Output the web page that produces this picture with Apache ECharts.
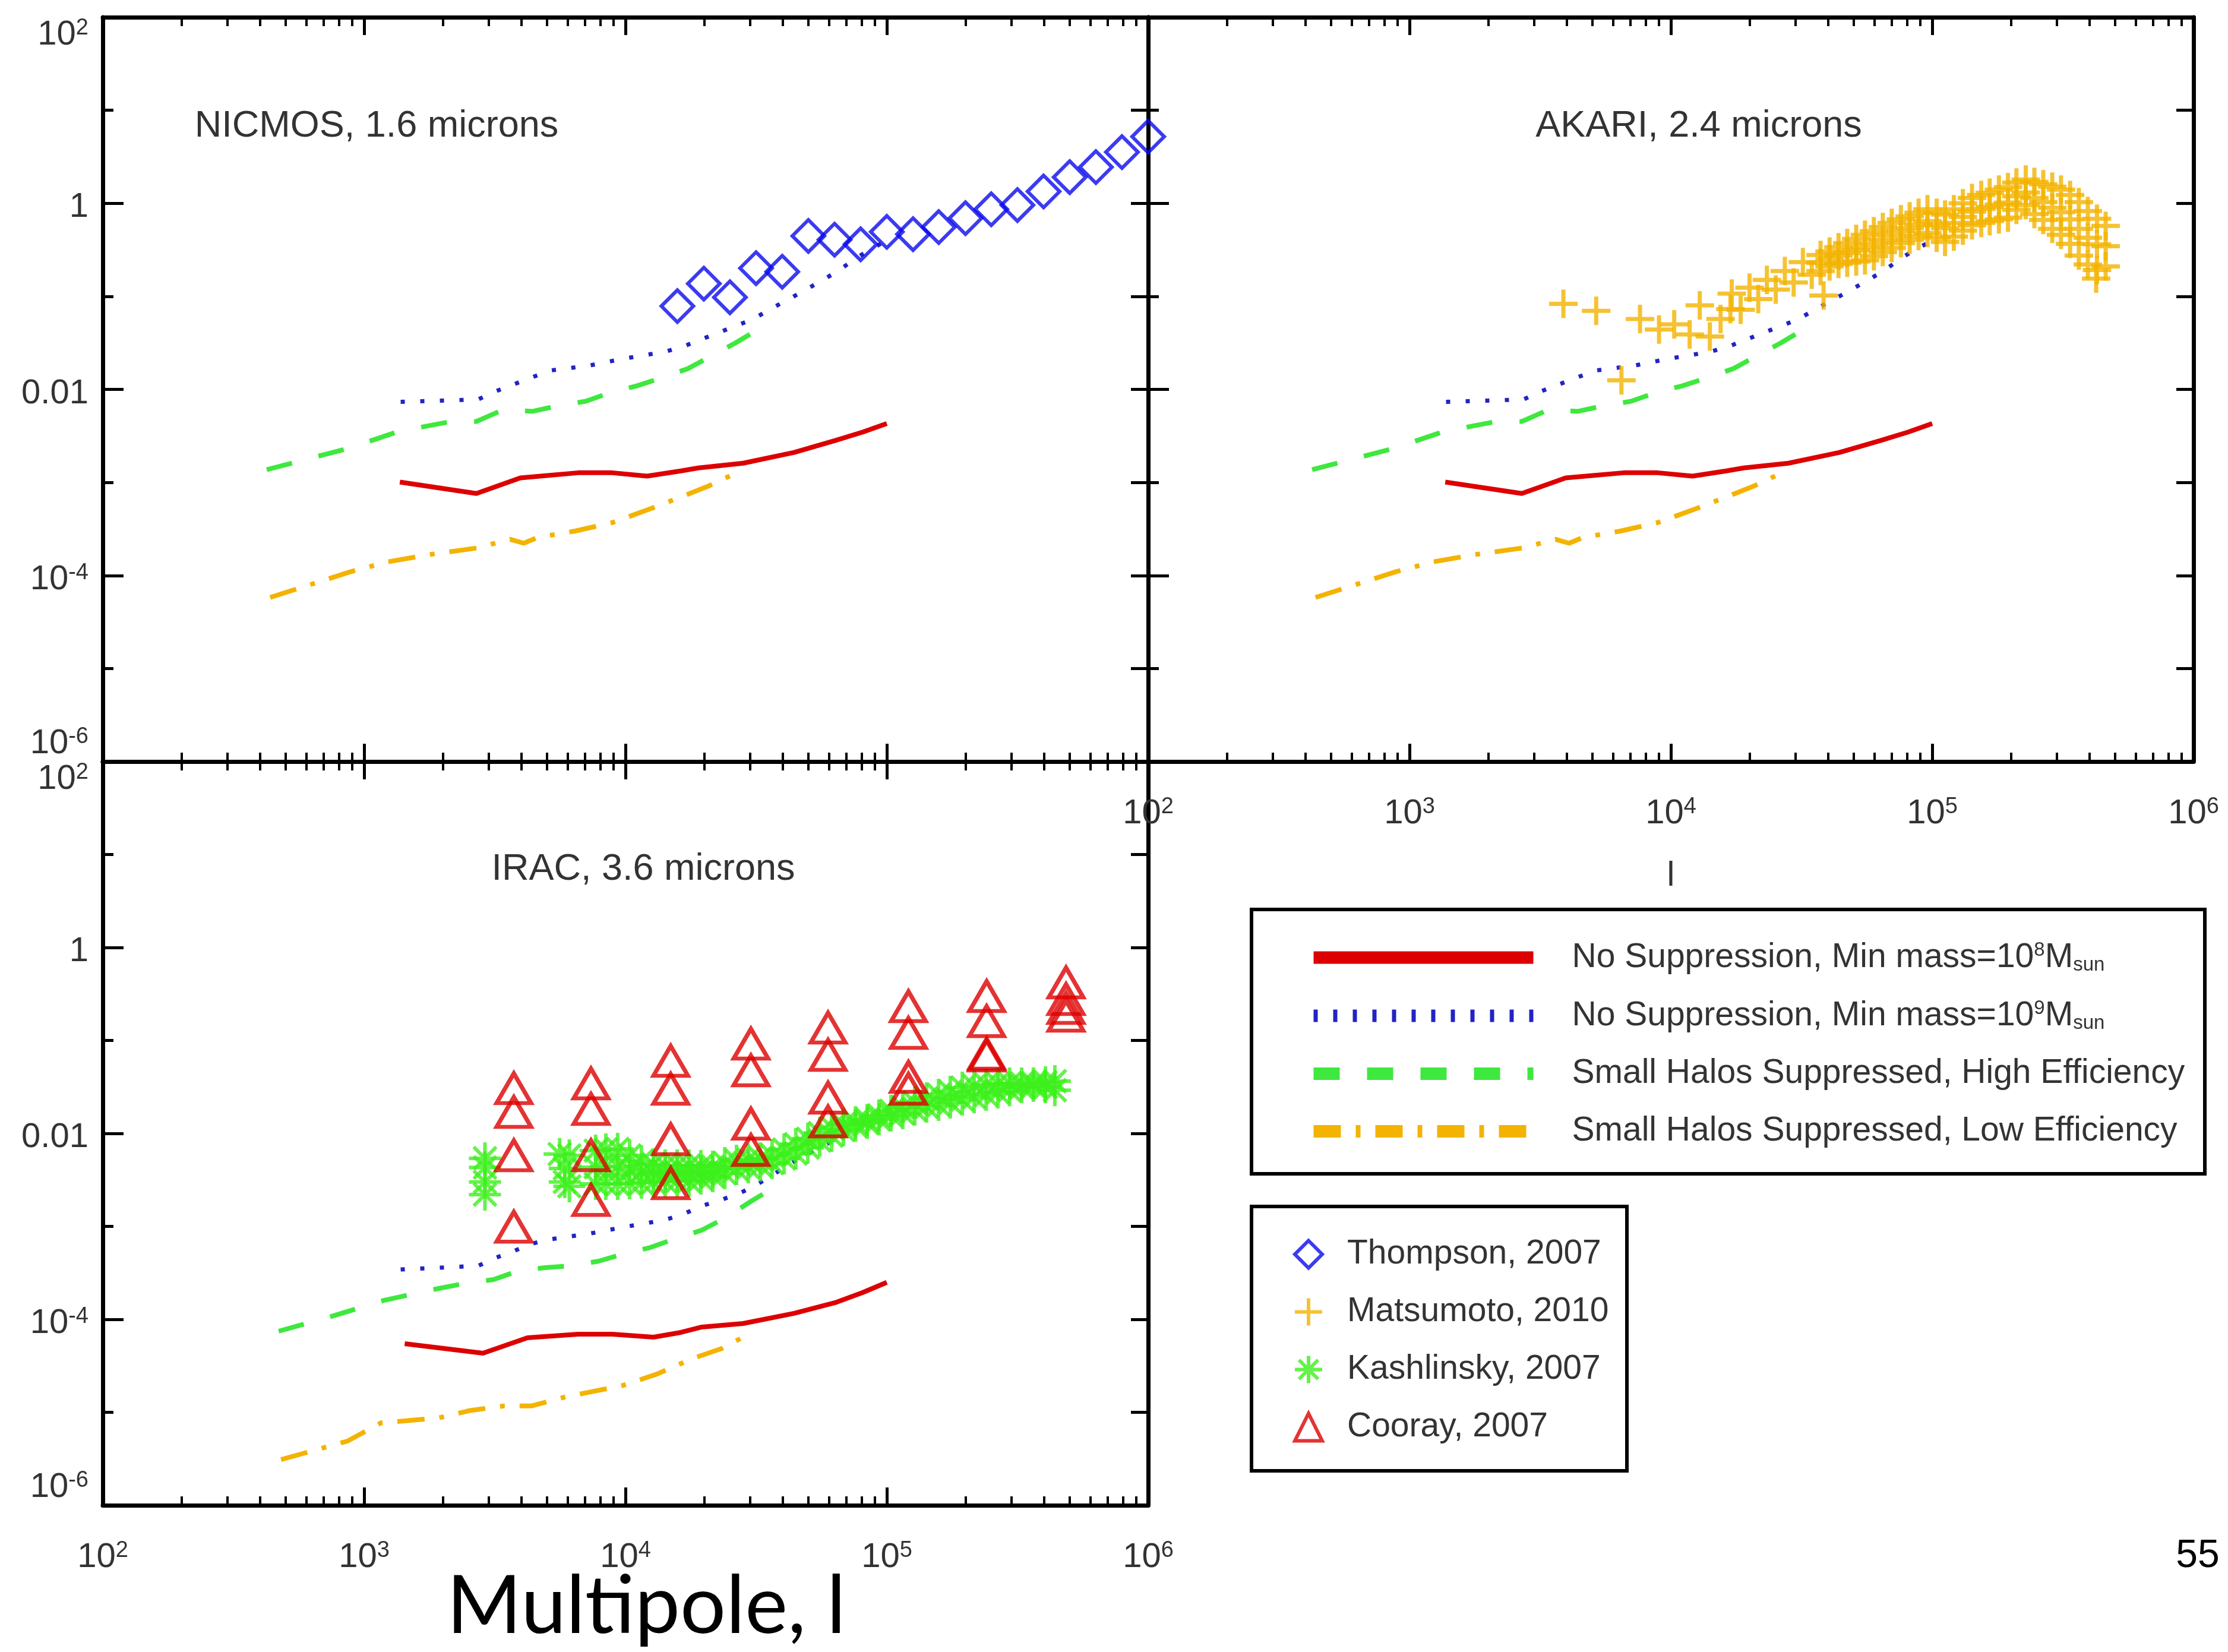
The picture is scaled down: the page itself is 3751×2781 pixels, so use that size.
<!DOCTYPE html>
<html>
<head>
<meta charset="utf-8">
<script src="https://cdn.jsdelivr.net/npm/echarts@6/dist/echarts.min.js"></script>
<style>
  html, body { margin: 0; padding: 0; background: #fff; }
  #chart { width: 3751px; height: 2781px; }
</style>
</head>
<body>
<div id="chart"></div>
<script>
// ---- data (multipole l, power) ----
const xTickExp = [2, 3, 4, 5, 6]
const yTickExp = [2, 0, -2, -4, -6]

// model curves, NICMOS / AKARI panels
const topNoSup8 = [[1370, 1.01e-3], [2690, 7.6e-4], [3960, 1.12e-3], [6600, 1.27e-3], [8900, 1.27e-3], [12100, 1.17e-3], [16300, 1.33e-3], [19000, 1.43e-3], [28200, 1.61e-3], [44200, 2.10e-3], [63400, 2.82e-3], [80700, 3.47e-3], [100000, 4.3e-3]]
const topNoSup9 = [[1380, 7.35e-3], [2730, 7.8e-3], [3210, 9.6e-3], [4360, 1.34e-2], [5200, 1.6e-2], [7230, 1.8e-2], [9950, 2.15e-2], [14100, 2.53e-2], [16800, 2.92e-2], [22600, 4.05e-2], [30800, 5.7e-2], [35900, 7.3e-2], [48300, 0.115], [64400, 0.184], [78200, 0.27], [100000, 0.40]]
const topHighEff = [[424, 1.37e-3], [859, 2.3e-3], [1350, 3.52e-3], [2150, 4.52e-3], [2690, 4.52e-3], [3420, 6.07e-3], [4420, 5.81e-3], [5450, 6.62e-3], [7040, 7.45e-3], [8820, 9.29e-3], [11050, 1.09e-2], [13830, 1.34e-2], [17330, 1.67e-2], [21700, 2.35e-2], [26300, 3.15e-2], [30600, 4.05e-2]]
const topLowEff = [[437, 5.8e-5], [881, 1.09e-4], [1230, 1.4e-4], [1760, 1.67e-4], [2690, 1.97e-4], [3620, 2.45e-4], [4080, 2.22e-4], [4610, 2.56e-4], [6410, 3.0e-4], [8910, 3.7e-4], [12100, 5.05e-4], [16300, 6.97e-4], [20700, 9.1e-4], [25200, 1.18e-3]]

// model curves, IRAC panel
const iracNoSup8 = [[1430, 5.47e-5], [2850, 4.32e-5], [4220, 6.34e-5], [6600, 6.92e-5], [8900, 6.92e-5], [12800, 6.43e-5], [16300, 7.24e-5], [19600, 8.26e-5], [28200, 9.02e-5], [44200, 1.16e-4], [63400, 1.51e-4], [80700, 1.94e-4], [100000, 2.5e-4]]
const iracNoSup9 = [[1380, 3.44e-4], [2730, 3.76e-4], [3210, 4.62e-4], [3740, 5.43e-4], [4360, 6.49e-4], [5200, 7.29e-4], [7230, 8.32e-4], [10050, 9.93e-4], [14100, 1.17e-3], [16600, 1.35e-3], [19600, 1.66e-3], [22900, 1.9e-3], [26900, 2.23e-3], [30800, 2.66e-3], [48300, 5.8e-3], [76000, 1.1e-2], [100000, 2.0e-2]]
const iracHighEff = [[471, 7.45e-5], [762, 1.09e-4], [1190, 1.6e-4], [1930, 2.15e-4], [2460, 2.45e-4], [3130, 2.68e-4], [3860, 3.3e-4], [4910, 3.6e-4], [6150, 3.76e-4], [7910, 4.23e-4], [9800, 5.05e-4], [12450, 5.93e-4], [15350, 7.29e-4], [19540, 9.08e-4], [24200, 1.24e-3], [29850, 1.82e-3], [33650, 2.23e-3]]
const iracLowEff = [[481, 3.1e-6], [863, 4.9e-6], [1160, 7.7e-6], [1930, 8.7e-6], [2520, 1.04e-5], [3420, 1.17e-5], [4360, 1.17e-5], [5870, 1.46e-5], [7230, 1.64e-5], [9800, 1.95e-5], [13200, 2.58e-5], [18000, 3.78e-5], [23400, 4.86e-5], [30800, 7.35e-5]]

// measurements
const thompson2007 = [[15800, 0.0785], [19950, 0.137], [25100, 0.0977], [31600, 0.201], [39800, 0.184], [50100, 0.446], [63100, 0.407], [79400, 0.362], [100000, 0.493], [126000, 0.466], [158000, 0.555], [200000, 0.692], [251000, 0.863], [316000, 0.957], [398000, 1.34], [501000, 1.91], [631000, 2.45], [794000, 3.55], [1000000, 5.2]]

const matsumoto2010 = [
  [3880, 0.083], [5180, 0.070], [6470, 0.0125], [7620, 0.057], [9010, 0.044], [10300, 0.050], [11800, 0.039], [12900, 0.080], [14100, 0.037], [15500, 0.057], [16900, 0.073],
  [17100, 0.107], [20000, 0.124], [23300, 0.150], [27300, 0.187], [32000, 0.233],
  [18500, 0.0718], [21600, 0.0935], [25200, 0.118], [29500, 0.141], [34600, 0.171],
  // upper edge of the dense part
  [37400, 0.278], [40500, 0.303], [43800, 0.337], [47300, 0.373], [51200, 0.414], [55300, 0.459], [59800, 0.501], [64700, 0.555], [70000, 0.615], [75900, 0.672], [82000, 0.723], [88700, 0.791], [95900, 0.863], [104000, 0.791], [112000, 0.757], [121000, 0.863], [131000, 1.00], [142000, 1.14], [154000, 1.23], [166000, 1.30], [180000, 1.40], [195000, 1.49], [210000, 1.67], [228000, 1.80], [246000, 1.70], [266000, 1.60], [288000, 1.51], [311000, 1.40], [337000, 1.23], [364000, 1.03], [394000, 0.826], [427000, 0.682], [461000, 0.571],
  // middle
  [37400, 0.228], [40500, 0.252], [43800, 0.274], [47300, 0.293], [51200, 0.313], [55300, 0.335], [59800, 0.368], [64700, 0.407], [70000, 0.452], [75900, 0.501], [82000, 0.542], [88700, 0.594], [95900, 0.644], [104000, 0.580], [112000, 0.540], [121000, 0.616], [131000, 0.713], [142000, 0.813], [154000, 0.870], [166000, 0.914], [180000, 0.970], [195000, 1.02], [210000, 1.19], [228000, 1.31], [246000, 1.14], [266000, 1.03], [288000, 0.895], [311000, 0.802], [337000, 0.672], [364000, 0.531], [394000, 0.426], [427000, 0.362], [461000, 0.346],
  // lower edge
  [37400, 0.187], [40500, 0.210], [43800, 0.223], [47300, 0.230], [51200, 0.237], [55300, 0.244], [59800, 0.270], [64700, 0.299], [70000, 0.332], [75900, 0.373], [82000, 0.407], [88700, 0.446], [95900, 0.480], [104000, 0.426], [112000, 0.385], [121000, 0.439], [131000, 0.508], [142000, 0.580], [154000, 0.615], [166000, 0.643], [180000, 0.672], [195000, 0.703], [210000, 0.851], [228000, 0.957], [246000, 0.767], [266000, 0.662], [288000, 0.531], [311000, 0.459], [337000, 0.367], [364000, 0.274], [394000, 0.220], [427000, 0.192], [461000, 0.210],
  [38400, 0.102], [424000, 0.155]
]

const kashlinsky2007 = [
  [2900, 5.4e-3], [2900, 4.3e-3], [2900, 3.0e-3], [2900, 2.2e-3],
  [5600, 6.0e-3], [6100, 5.8e-3], [5860, 4.2e-3], [5860, 3.0e-3], [6100, 2.7e-3],
  // upper edge
  [7690, 6.53e-3], [8410, 6.72e-3], [9340, 6.82e-3], [10370, 5.81e-3], [11510, 5.01e-3], [12790, 4.66e-3], [14190, 4.52e-3], [15770, 4.52e-3], [17500, 4.52e-3], [19440, 4.46e-3], [21580, 4.39e-3], [23990, 4.80e-3], [26610, 5.08e-3], [29510, 5.23e-3], [32810, 5.39e-3], [36390, 5.81e-3], [40460, 6.72e-3], [44870, 7.67e-3], [49890, 8.75e-3], [55340, 1.01e-2], [61520, 1.16e-2], [68230, 1.25e-2], [75860, 1.32e-2], [84140, 1.40e-2], [93330, 1.56e-2], [103800, 1.75e-2], [115100, 1.91e-2], [127900, 2.15e-2], [141900, 2.38e-2], [157800, 2.60e-2], [175000, 2.80e-2], [194500, 3.10e-2], [215800, 3.24e-2], [239900, 3.34e-2], [266100, 3.44e-2], [295100, 3.44e-2], [328100, 3.44e-2], [363900, 3.44e-2], [404600, 3.55e-2], [439500, 3.65e-2],
  // middle of the thick part
  [7690, 4.32e-3], [8410, 4.38e-3], [9340, 4.42e-3], [10370, 4.11e-3], [11510, 3.84e-3], [12790, 3.73e-3], [14190, 3.71e-3], [15770, 3.73e-3], [17500, 3.73e-3], [19440, 3.82e-3], [21580, 3.90e-3],
  // lower edge
  [7690, 2.86e-3], [8410, 2.86e-3], [9340, 2.86e-3], [10370, 2.91e-3], [11510, 2.95e-3], [12790, 2.99e-3], [14190, 3.04e-3], [15770, 3.08e-3], [17500, 3.08e-3], [19440, 3.27e-3], [21580, 3.47e-3], [23990, 3.73e-3], [26610, 4.14e-3], [29510, 4.32e-3], [32810, 4.52e-3], [36390, 4.80e-3], [40460, 5.39e-3], [44870, 6.07e-3], [49890, 7.03e-3], [55340, 8.38e-3], [61520, 9.42e-3], [68230, 1.09e-2], [75860, 1.21e-2], [84140, 1.30e-2], [93330, 1.42e-2], [103800, 1.56e-2], [115100, 1.65e-2], [127900, 1.80e-2], [141900, 1.94e-2], [157800, 2.03e-2], [175000, 2.15e-2], [194500, 2.31e-2], [215800, 2.45e-2], [239900, 2.60e-2], [266100, 2.76e-2], [295100, 2.92e-2], [328100, 3.15e-2], [363900, 3.24e-2], [404600, 3.15e-2], [439500, 2.92e-2]
]

const cooray2007 = [
  [3740, 0.0306], [3740, 0.0170], [3740, 0.00581], [3740, 0.00099],
  [7380, 0.0344], [7380, 0.0183], [7380, 0.00581], [7380, 0.00192],
  [14900, 0.0603], [14900, 0.0301], [14900, 0.00863], [14900, 0.00291],
  [30200, 0.0923], [30200, 0.0475], [30200, 0.0127], [30200, 0.00662],
  [59600, 0.137], [59600, 0.0697], [59600, 0.0242], [59600, 0.0134],
  [121000, 0.233], [121000, 0.120], [121000, 0.0405], [121000, 0.0301],
  [241000, 0.299], [241000, 0.161], [241000, 0.0718], [241000, 0.0687],
  [485000, 0.420], [485000, 0.278], [485000, 0.223], [485000, 0.184]
]

const modelNames = ['nosup8', 'nosup9', 'higheff', 'loweff']
const obsNames = ['Thompson, 2007', 'Matsumoto, 2010', 'Kashlinsky, 2007', 'Cooray, 2007']

// ---- styles ----
const FONT = '"Liberation Sans", Arial, Helvetica, sans-serif'
const INK = '#333'
const RED = '#dd0000'
const ORANGE = '#f3b300'
const GREEN = '#3ee83e'

const lineStyles = {
  nosup8: { color: RED, width: 8, type: 'solid' },
  nosup9: { color: '#2323c3', width: 7, type: [7, 26] },
  higheff: { color: GREEN, width: 8, type: [44, 46] },
  loweff: { color: ORANGE, width: 8, type: [46, 25, 8, 25] }
}

const legendText = {
  nosup8: '{t|No Suppression, Min mass=10}{sup|8}{t|M}{sub|sun}',
  nosup9: '{t|No Suppression, Min mass=10}{sup|9}{t|M}{sub|sun}',
  higheff: '{t|Small Halos Suppressed, High Efficiency}',
  loweff: '{t|Small Halos Suppressed, Low Efficiency}'
}

const PLUS = 'path://M5,0V10M0,5H10'
const STAR = 'path://M5,0V10M0,5H10M1.5,1.5L8.5,8.5M8.5,1.5L1.5,8.5'

// panel rectangles in px
const panels = [
  { left: 173, top: 29, width: 1760, height: 1253, xLabels: false, yLabels: true, xName: '' },
  { left: 1933, top: 29, width: 1760, height: 1253, xLabels: true, yLabels: false, xName: 'l' },
  { left: 173, top: 1282, width: 1760, height: 1252, xLabels: true, yLabels: true, xName: '' }
]

const tickRich = {
  b: { fontFamily: FONT, color: INK, fontSize: 58, lineHeight: 60 },
  s: { fontFamily: FONT, color: INK, fontSize: 38, lineHeight: 6, verticalAlign: 'top' },
  gh: { fontSize: 10, lineHeight: 60 },
  gm: { fontSize: 10, lineHeight: 14 }
}

const xLabelFmt = (v) => {
  const e = Math.round(Math.log10(v))
  if (xTickExp.indexOf(e) < 0) return ''
  return '{b|10}{s|' + e + '}'
}

// top label sits below its tick, bottom label above, like the original
const yLabelFmt = (v) => {
  const e = Math.round(Math.log10(v))
  if (yTickExp.indexOf(e) < 0) return ''
  let txt = '{b|10}{s|' + e + '}'
  if (e === 0) txt = '{b|1}'
  if (e === -2) txt = '{b|0.01}'
  if (e === 2) return '{gh| }\n' + txt
  if (e === -6) return txt + '\n{gh| }'
  return '{gm| }\n' + txt
}

const blackLine = { color: '#000', width: 7 }
const tickLine = { color: '#000', width: 5 }

const grid = []
const xAxis = []
const yAxis = []
const series = []

panels.forEach((p, g) => {
  grid.push({ left: p.left, top: p.top, width: p.width, height: p.height, show: false, containLabel: false, outerBoundsMode: 'none' })

  const xBase = {
    type: 'log', logBase: 10, min: 1e2, max: 1e6, interval: 1, gridIndex: g,
    axisLine: { show: true, onZero: false, lineStyle: blackLine },
    axisTick: { show: true, inside: true, length: 30, lineStyle: tickLine },
    minorTick: { show: true, splitNumber: 9, length: 15, lineStyle: { color: '#000', width: 4 } },
    splitLine: { show: false }, minorSplitLine: { show: false }
  }
  xAxis.push(Object.assign({}, xBase, {
    position: 'bottom',
    name: p.xName, nameLocation: 'middle', nameGap: 164,
    nameTextStyle: { fontFamily: FONT, fontSize: 58, color: INK },
    axisLabel: { show: p.xLabels, margin: 58, formatter: xLabelFmt, showMinLabel: true, showMaxLabel: true, rich: tickRich }
  }))
  xAxis.push(Object.assign({}, xBase, { position: 'top', axisLabel: { show: false } }))

  const yBase = {
    type: 'log', logBase: 10, min: 1e-6, max: 1e2, gridIndex: g,
    splitLine: { show: false }, minorTick: { show: false }
  }
  // labelled decades, long ticks
  yAxis.push(Object.assign({}, yBase, {
    position: 'left', interval: 2,
    axisLine: { show: true, onZero: false, lineStyle: blackLine },
    axisTick: { show: true, inside: true, length: 35, lineStyle: tickLine },
    axisLabel: { show: p.yLabels, margin: 24, formatter: yLabelFmt, showMinLabel: true, showMaxLabel: true, rich: tickRich }
  }))
  // every decade, short ticks
  yAxis.push(Object.assign({}, yBase, {
    position: 'left', interval: 1,
    axisLine: { show: false },
    axisTick: { show: true, inside: true, length: 18, lineStyle: tickLine },
    axisLabel: { show: false }
  }))
  yAxis.push(Object.assign({}, yBase, {
    position: 'right', interval: 1,
    axisLine: { show: true, onZero: false, lineStyle: blackLine },
    axisTick: { show: true, inside: true, length: 29, lineStyle: tickLine },
    axisLabel: { show: false }
  }))

  const curves = g < 2 ? [topNoSup8, topNoSup9, topHighEff, topLowEff] : [iracNoSup8, iracNoSup9, iracHighEff, iracLowEff]
  curves.forEach((data, i) => {
    const name = modelNames[i]
    series.push({
      type: 'line', name, data, xAxisIndex: 2 * g, yAxisIndex: 3 * g,
      symbol: 'none', lineStyle: lineStyles[name], z: 2, silent: true, clip: true
    })
  })
})

const scatter = (name, data, g, symbol, size, color, bw, z) => ({
  type: 'scatter', name, data, xAxisIndex: 2 * g, yAxisIndex: 3 * g,
  symbol, symbolSize: size, z, silent: true, clip: true,
  itemStyle: { color: 'rgba(0,0,0,0)', borderColor: color, borderWidth: bw }
})

series.push(scatter(obsNames[0], thompson2007, 0, 'diamond', 54, '#0a0aee', 6, 5))
series.push(scatter(obsNames[1], matsumoto2010, 1, PLUS, 48, ORANGE, 7, 5))
series.push(scatter(obsNames[2], kashlinsky2007, 2, STAR, 54, '#3cf01c', 6, 5))
series.push(scatter(obsNames[3], cooray2007, 2, 'triangle', [58, 50], RED, 7, 6))

const legendRich = {
  t: { fontFamily: FONT, color: INK, fontSize: 57, lineHeight: 58 },
  sup: { fontFamily: FONT, color: INK, fontSize: 33, lineHeight: 4, verticalAlign: 'top' },
  sub: { fontFamily: FONT, color: INK, fontSize: 33, lineHeight: 10, verticalAlign: 'bottom' }
}

const option = {
  backgroundColor: '#fff',
  animation: false,
  grid, xAxis, yAxis, series,
  legend: [
    {
      data: modelNames, orient: 'vertical', left: 2201, top: 1583, padding: 0,
      itemWidth: 370, itemHeight: 24, itemGap: 40, selectedMode: false,
      lineStyle: { width: 21 }, itemStyle: { opacity: 0 },
      formatter: (name) => legendText[name],
      textStyle: { fontFamily: FONT, fontSize: 57, color: INK, padding: [0, 0, 0, 60], rich: legendRich }
    },
    {
      data: obsNames, orient: 'vertical', left: 2177, top: 2083, padding: 0,
      itemWidth: 46, itemHeight: 46, itemGap: 40, selectedMode: false,
      itemStyle: { borderWidth: 6 },
      formatter: (name) => '{t|' + name + '}',
      textStyle: { fontFamily: FONT, fontSize: 57, color: INK, padding: [0, 0, 0, 37], rich: legendRich }
    }
  ],
  graphic: [
    { type: 'rect', shape: { x: 2107, y: 1531, width: 1605, height: 445 }, style: { fill: 'none', stroke: '#000', lineWidth: 6 } },
    { type: 'rect', shape: { x: 2107, y: 2031, width: 632, height: 445 }, style: { fill: 'none', stroke: '#000', lineWidth: 6 } },
    { type: 'text', x: 634, y: 213, style: { text: 'NICMOS, 1.6 microns', fontFamily: FONT, fontSize: 63, fill: INK, align: 'center', verticalAlign: 'middle' } },
    { type: 'text', x: 2860, y: 213, style: { text: 'AKARI, 2.4 microns', fontFamily: FONT, fontSize: 63, fill: INK, align: 'center', verticalAlign: 'middle' } },
    { type: 'text', x: 1083, y: 1464, style: { text: 'IRAC, 3.6 microns', fontFamily: FONT, fontSize: 63, fill: INK, align: 'center', verticalAlign: 'middle' } },
    { type: 'text', x: 1088, y: 2705, style: { text: 'Multipole, l', fontFamily: 'Lato, "Open Sans", sans-serif', fontSize: 136, fill: '#000', align: 'center', verticalAlign: 'middle' } },
    { type: 'text', x: 3700, y: 2620, style: { text: '55', fontFamily: FONT, fontSize: 66, fill: '#000', align: 'center', verticalAlign: 'middle' } }
  ]
}

const chart = echarts.init(document.getElementById('chart'), null, { renderer: 'canvas' })
chart.setOption(option)
</script>
</body>
</html>
